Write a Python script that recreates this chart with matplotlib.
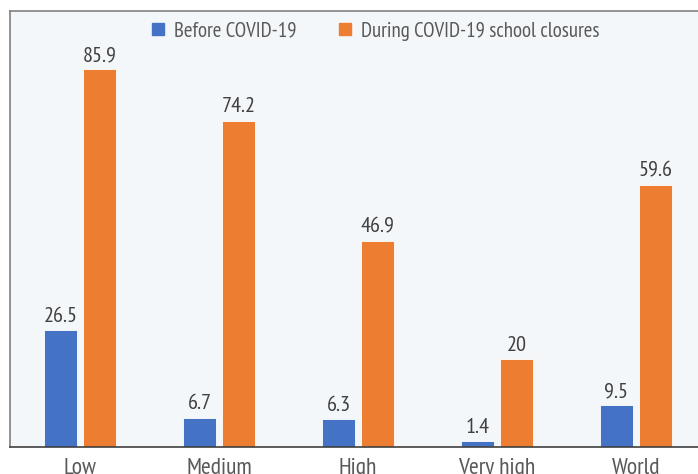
import matplotlib
matplotlib.use('Agg')
import matplotlib.pyplot as plt
from matplotlib.lines import Line2D
import numpy as np

plt.rcParams['font.family'] = ['PT Sans Narrow', 'Fira Sans Condensed', 'DejaVu Sans']

# 数据
categories = ['Low', 'Medium', 'High', 'Very high', 'World']
before = [26.5, 6.7, 6.3, 1.4, 9.5]
during = [85.9, 74.2, 46.9, 20, 59.6]
series_names = ['Before COVID-19', 'During COVID-19 school closures']

blue = '#4472C4'
orange = '#ED7D31'
text_col = '#404040'

fig = plt.figure(figsize=(6.98, 4.74), dpi=100)
ax = fig.add_axes([10 / 698, 27 / 474, 1.0, 436 / 474])
ax.set_facecolor('#F4F7F9')

x = np.arange(len(categories))
off = 0.1403
w = 0.232
ax.bar(x - off, before, w, color=blue, edgecolor='white', linewidth=0.6)
ax.bar(x + off, during, w, color=orange, edgecolor='white', linewidth=0.6)

# 数值标签
for xi, v in zip(x - off, before):
    ax.annotate(f'{v:g}', (xi, v), xytext=(0, 3), textcoords='offset points',
                ha='center', va='bottom', fontsize=16, color=text_col)
for xi, v in zip(x + off, during):
    ax.annotate(f'{v:g}', (xi, v), xytext=(0, 3), textcoords='offset points',
                ha='center', va='bottom', fontsize=16, color=text_col)

ax.set_xlim(-0.5036, -0.5036 + 698 / 139)
ax.set_ylim(0, 99.1)
ax.set_xticks(x)
ax.set_xticklabels(categories, fontsize=17, color='#595959')
ax.tick_params(axis='x', length=0, pad=8)
ax.set_yticks([])

for s in ['left', 'top']:
    ax.spines[s].set_color('#808080')
    ax.spines[s].set_linewidth(1.2)
ax.spines['bottom'].set_color('#404040')
ax.spines['bottom'].set_linewidth(1.2)
ax.spines['right'].set_visible(False)

# 图例
handles = [
    Line2D([0], [0], marker='s', linestyle='', markersize=8, color=blue, label=series_names[0]),
    Line2D([0], [0], marker='s', linestyle='', markersize=8, color=orange, label=series_names[1]),
]
fig.legend(handles=handles, loc='upper center', bbox_to_anchor=(0.535, 0.994), ncol=2,
           frameon=False, fontsize=15, labelcolor='#595959', handletextpad=0.25,
           columnspacing=1.85, handlelength=1.0)

fig.savefig('out.png', dpi=100)
